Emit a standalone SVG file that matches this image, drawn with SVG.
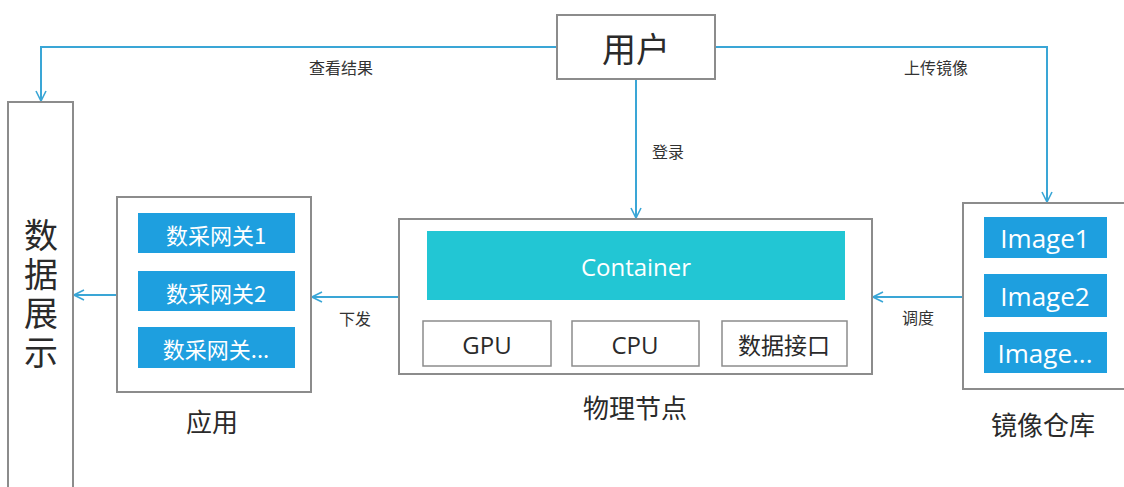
<svg xmlns="http://www.w3.org/2000/svg" width="1124" height="487" viewBox="0 0 1124 487">
  <defs>
    <marker id="arrow" viewBox="0 0 12 12" refX="11" refY="6" markerWidth="12" markerHeight="12" markerUnits="userSpaceOnUse" orient="auto">
      <polyline points="1,1 11,6 1,11" fill="none" stroke="#3aa6d6" stroke-width="1.6"/>
    </marker>
    <style>
      .frame { fill: #ffffff; stroke: #8c8c8c; stroke-width: 2; }
      .chip { fill: #1e9fdf; }
      .teal { fill: #22c6d4; }
      .cell { fill: #ffffff; stroke: #8c8c8c; stroke-width: 1.5; }
      .wire { fill: none; stroke: #3aa6d6; stroke-width: 2; }
      .cjk { font-family: "Noto Sans CJK SC", "Noto Sans", sans-serif; }
      .lat { font-family: "Open Sans", "Noto Sans", "Noto Sans CJK SC", sans-serif; }
      .white { fill: #ffffff; }
      .dark { fill: #2a2a2a; }
      .edge { font-family: "Noto Sans CJK SC", sans-serif; font-size: 16px; fill: #333333; }
      .mid { text-anchor: middle; dominant-baseline: central; }
      .vert { writing-mode: vertical-rl; text-anchor: middle; letter-spacing: 5px; }
    </style>
  </defs>

  <rect width="1124" height="487" fill="#ffffff"/>

  <!-- connectors -->
  <g id="connectors">
    <polyline class="wire" points="557,47 41,47 41,101" marker-end="url(#arrow)"/>
    <polyline class="wire" points="715,47 1047,47 1047,202" marker-end="url(#arrow)"/>
    <line class="wire" x1="636" y1="79" x2="636" y2="218" marker-end="url(#arrow)"/>
    <line class="wire" x1="399" y1="297" x2="312" y2="297" marker-end="url(#arrow)"/>
    <line class="wire" x1="117" y1="295" x2="74" y2="295" marker-end="url(#arrow)"/>
    <line class="wire" x1="963" y1="297" x2="873" y2="297" marker-end="url(#arrow)"/>
    <text class="edge mid" x="341" y="67">查看结果</text>
    <text class="edge mid" x="936" y="67">上传镜像</text>
    <text class="edge mid" x="668" y="151">登录</text>
    <text class="edge mid" x="355" y="318">下发</text>
    <text class="edge mid" x="918" y="317">调度</text>
  </g>

  <!-- user -->
  <g id="user">
    <rect class="frame" x="557" y="15" width="158" height="64"/>
    <text class="cjk dark mid" x="636" y="47" font-size="34">用户</text>
  </g>

  <!-- data display column, title set vertically -->
  <g id="data-display">
    <rect class="frame" x="8" y="102" width="65" height="400"/>
    <text class="cjk dark vert" x="41" y="296" font-size="34">数据展示</text>
  </g>

  <!-- application -->
  <g id="application">
    <rect class="frame" x="117" y="197" width="194" height="195"/>
    <rect class="chip" x="138" y="213" width="157" height="40"/>
    <rect class="chip" x="138" y="271" width="157" height="40"/>
    <rect class="chip" x="138" y="327" width="157" height="41"/>
    <text class="cjk white mid" x="216" y="234" font-size="22">数采网关1</text>
    <text class="cjk white mid" x="216" y="292" font-size="22">数采网关2</text>
    <text class="cjk white mid" x="216" y="348" font-size="22">数采网关...</text>
    <text class="cjk dark mid" x="212" y="420" font-size="26">应用</text>
  </g>

  <!-- physical node -->
  <g id="physical-node">
    <rect class="frame" x="399" y="219" width="473" height="155"/>
    <rect class="teal" x="427" y="231" width="418" height="69"/>
    <text class="lat white mid" x="636" y="266" font-size="24">Container</text>
    <rect class="cell" x="423" y="321" width="128" height="45"/>
    <rect class="cell" x="572" y="321" width="127" height="45"/>
    <rect class="cell" x="722" y="321" width="125" height="45"/>
    <text class="lat dark mid" x="487" y="344" font-size="24">GPU</text>
    <text class="lat dark mid" x="635" y="344" font-size="24">CPU</text>
    <text class="cjk dark mid" x="784" y="344" font-size="23">数据接口</text>
    <text class="cjk dark mid" x="635" y="406" font-size="26">物理节点</text>
  </g>

  <!-- image repository -->
  <g id="image-repo">
    <rect class="frame" x="963" y="203" width="170" height="186"/>
    <rect class="chip" x="984" y="217" width="123" height="41"/>
    <rect class="chip" x="984" y="274" width="123" height="43"/>
    <rect class="chip" x="984" y="332" width="123" height="41"/>
    <text class="lat white mid" x="1045" y="238" font-size="26">Image1</text>
    <text class="lat white mid" x="1045" y="296" font-size="26">Image2</text>
    <text class="lat white mid" x="1045" y="353" font-size="26">Image...</text>
    <text class="cjk dark mid" x="1043" y="423" font-size="26">镜像仓库</text>
  </g>
</svg>
